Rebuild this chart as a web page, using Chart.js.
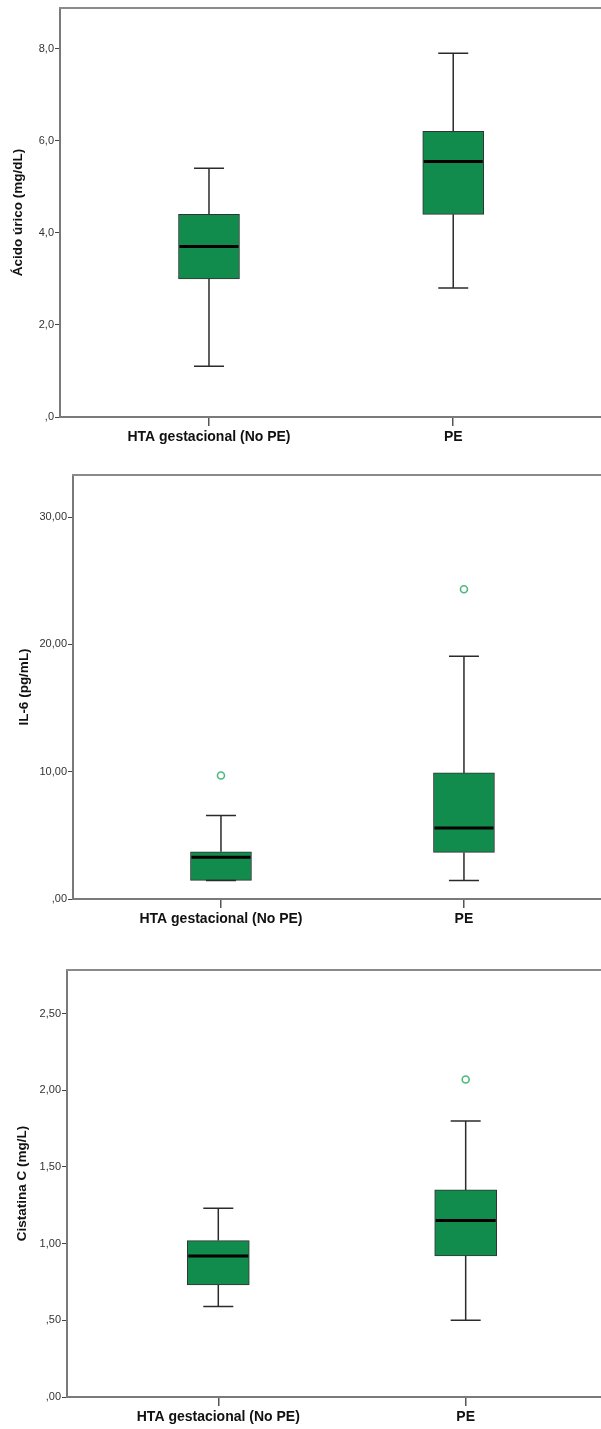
<!DOCTYPE html>
<html>
<head>
<meta charset="utf-8">
<script src="https://cdn.jsdelivr.net/npm/chart.js@4.4.1/dist/chart.umd.min.js"></script>
<style>
  html, body { margin: 0; padding: 0; background: #fff; overflow: hidden; }
  canvas { position: absolute; left: 0; display: block; }
</style>
</head>
<body>
<canvas id="chartUric" width="601" height="460" style="top:0"></canvas>
<canvas id="chartIl6" width="601" height="490" style="top:460px"></canvas>
<canvas id="chartCys" width="601" height="479" style="top:950px"></canvas>
<script>
// Groups on the x axis
const groups = ['HTA gestacional (No PE)', 'PE'];

// Ácido úrico (mg/dL): whisker low, Q1, median, Q3, whisker high per group
const uricLow    = [1.1, 2.8];
const uricQ1     = [3.0, 4.4];
const uricMedian = [3.7, 5.55];
const uricQ3     = [4.4, 6.2];
const uricHigh   = [5.4, 7.9];
const uricOutliers = [];
const uricTicks  = [0, 2, 4, 6, 8];

// IL-6 (pg/mL)
const il6Low    = [1.46, 1.46];
const il6Q1     = [1.46, 3.66];
const il6Median = [3.27, 5.57];
const il6Q3     = [3.71, 9.9];
const il6High   = [6.56, 19.07];
const il6Outliers = [{ group: 0, value: 9.7 }, { group: 1, value: 24.33 }];
const il6Ticks  = [0, 10, 20, 30];

// Cistatina C (mg/L)
const cysLow    = [0.59, 0.50];
const cysQ1     = [0.73, 0.92];
const cysMedian = [0.92, 1.15];
const cysQ3     = [1.02, 1.35];
const cysHigh   = [1.23, 1.80];
const cysOutliers = [{ group: 1, value: 2.07 }];
const cysTicks  = [0, 0.5, 1, 1.5, 2, 2.5];

const FONT = 'Arial, "Liberation Sans", sans-serif';
const BOX_GREEN = '#128c4c';

// SPSS-style decimal comma, leading zero dropped: ",0" "2,0" ",50"
function spssNum(v, decimals) {
    let s = v.toFixed(decimals).replace('.', ',');
    if (s.startsWith('0,')) s = s.slice(1);
    return s;
}

// Whiskers, caps, medians and the top frame line
const boxExtras = {
    id: 'boxExtras',
    afterDatasetsDraw(chart, args, opts) {
        const { ctx, chartArea, scales: { x, y } } = chart;
        ctx.save();
        // top border of the frame
        ctx.strokeStyle = '#8a8a8a';
        ctx.lineWidth = 2;
        ctx.beginPath();
        ctx.moveTo(chartArea.left - 1, chartArea.top);
        ctx.lineTo(chartArea.right, chartArea.top);
        ctx.stroke();

        const half = opts.boxWidth / 2;
        const cap = opts.capWidth / 2;
        opts.medians.forEach((m, i) => {
            const cx = x.getPixelForValue(i);
            const yLow = y.getPixelForValue(opts.low[i]);
            const yQ1 = y.getPixelForValue(opts.q1[i]);
            const yQ3 = y.getPixelForValue(opts.q3[i]);
            const yHigh = y.getPixelForValue(opts.high[i]);

            ctx.strokeStyle = '#2b2b2b';
            ctx.lineWidth = 1.5;
            ctx.beginPath();
            if (yHigh < yQ3 - 0.5) {
                ctx.moveTo(cx, yQ3); ctx.lineTo(cx, yHigh);
                ctx.moveTo(cx - cap, yHigh); ctx.lineTo(cx + cap, yHigh);
            }
            if (yLow > yQ1 + 0.5) {
                ctx.moveTo(cx, yQ1); ctx.lineTo(cx, yLow);
            }
            ctx.moveTo(cx - cap, yLow); ctx.lineTo(cx + cap, yLow);
            ctx.stroke();

            ctx.strokeStyle = '#000';
            ctx.lineWidth = 3;
            const ym = y.getPixelForValue(m);
            ctx.beginPath();
            ctx.moveTo(cx - half + 1, ym);
            ctx.lineTo(cx + half - 1, ym);
            ctx.stroke();
        });
        ctx.restore();
    }
};

function makeBoxChart(id, cfg) {
    const boxes = groups.map((g, i) => ({ x: i, y: [cfg.q1[i], cfg.q3[i]] }));
    const outliers = cfg.outliers.map(o => ({ x: o.group, y: o.value }));

    return new Chart(document.getElementById(id), {
        data: {
            datasets: [
                {
                    type: 'bar',
                    data: boxes,
                    backgroundColor: BOX_GREEN,
                    borderColor: '#333',
                    borderWidth: 1,
                    borderSkipped: false,
                    barThickness: cfg.boxWidth
                },
                {
                    type: 'scatter',
                    data: outliers,
                    pointStyle: 'circle',
                    pointRadius: 3.5,
                    pointBorderWidth: 1.6,
                    pointBorderColor: '#4cba7e',
                    pointBackgroundColor: 'rgba(0,0,0,0)'
                }
            ]
        },
        options: {
            responsive: false,
            animation: false,
            events: [],
            layout: { autoPadding: false, padding: { top: cfg.padTop, left: 0, right: 0, bottom: 0 } },
            plugins: {
                legend: { display: false },
                tooltip: { enabled: false },
                boxExtras: {
                    low: cfg.low, q1: cfg.q1, medians: cfg.median, q3: cfg.q3, high: cfg.high,
                    boxWidth: cfg.boxWidth, capWidth: 30
                }
            },
            scales: {
                x: {
                    type: 'linear',
                    offset: false,
                    min: cfg.xMin,
                    max: cfg.xMax,
                    afterBuildTicks: (scale) => { scale.ticks = groups.map((g, i) => ({ value: i })); },
                    afterFit: (scale) => {
                        scale.height = cfg.xAxisHeight;
                        scale.paddingLeft = 0;
                        scale.paddingRight = 0;
                    },
                    grid: { offset: false, drawOnChartArea: false, drawTicks: true, tickLength: 9, color: '#555', lineWidth: 1.5 },
                    border: { color: '#7a7a7a', width: 2 },
                    ticks: {
                        autoSkip: false,
                        maxRotation: 0,
                        padding: 3,
                        color: '#111',
                        font: { family: FONT, size: 14, weight: 'bold' },
                        callback: (v) => groups[v]
                    }
                },
                y: {
                    type: 'linear',
                    min: 0,
                    max: cfg.yMax,
                    afterBuildTicks: (scale) => { scale.ticks = cfg.ticks.map(v => ({ value: v })); },
                    afterFit: (scale) => {
                        scale.width = cfg.yAxisWidth;
                        scale.paddingTop = 0;
                        scale.paddingBottom = 0;
                    },
                    grid: { drawOnChartArea: false, drawTicks: true, tickLength: 5, color: '#444', lineWidth: 1 },
                    border: { color: '#7a7a7a', width: 2 },
                    ticks: {
                        padding: 1,
                        color: '#333',
                        font: { family: FONT, size: 11 },
                        callback: (v) => spssNum(v, cfg.decimals)
                    },
                    title: {
                        display: true,
                        text: cfg.title,
                        color: '#111',
                        padding: { top: cfg.titlePad, bottom: 0 },
                        font: { family: FONT, size: 13.5, weight: 'bold' }
                    }
                }
            }
        },
        plugins: [boxExtras]
    });
}

makeBoxChart('chartUric', {
    low: uricLow, q1: uricQ1, median: uricMedian, q3: uricQ3, high: uricHigh,
    outliers: uricOutliers, ticks: uricTicks, decimals: 1,
    title: 'Ácido úrico (mg/dL)', titlePad: 10,
    yMax: 8.88, xMin: -0.61, xMax: 1.605,
    padTop: 8, yAxisWidth: 60, xAxisHeight: 43, boxWidth: 61
});

makeBoxChart('chartIl6', {
    low: il6Low, q1: il6Q1, median: il6Median, q3: il6Q3, high: il6High,
    outliers: il6Outliers, ticks: il6Ticks, decimals: 2,
    title: 'IL-6 (pg/mL)', titlePad: 16,
    yMax: 33.3, xMin: -0.609, xMax: 1.564,
    padTop: 15, yAxisWidth: 73, xAxisHeight: 51, boxWidth: 61
});

makeBoxChart('chartCys', {
    low: cysLow, q1: cysQ1, median: cysMedian, q3: cysQ3, high: cysHigh,
    outliers: cysOutliers, ticks: cysTicks, decimals: 2,
    title: 'Cistatina C (mg/L)', titlePad: 14,
    yMax: 2.784, xMin: -0.6116, xMax: 1.547,
    padTop: 20, yAxisWidth: 67, xAxisHeight: 32, boxWidth: 62
});
</script>
</body>
</html>
